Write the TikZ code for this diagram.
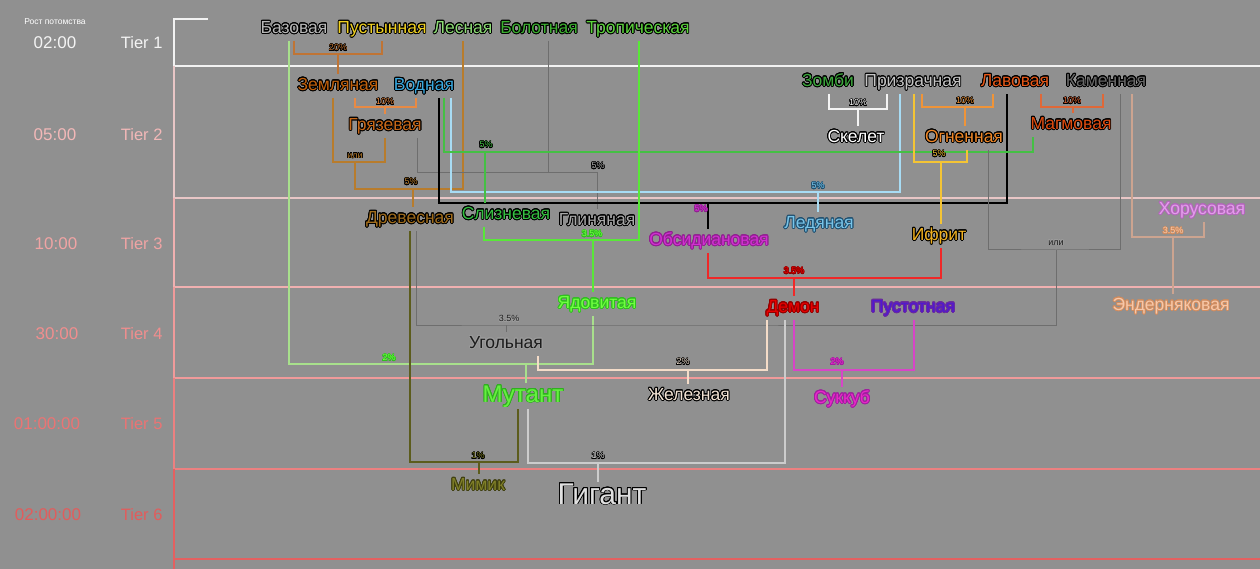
\documentclass[tikz,border=0pt]{standalone}
\usepackage{fontspec}
\setmainfont{Liberation Sans}
\usepackage{contour}
\contournumber{24}
\usetikzlibrary{calc}
\pgfdeclarelayer{back}
\pgfdeclarelayer{wires}
\pgfsetlayers{back,wires,main}

\definecolor{bgc}{HTML}{909090}
% tier colours
\definecolor{tlA}{HTML}{F2F2F2}
\definecolor{tlB}{HTML}{E8C6C6}
\definecolor{tlC}{HTML}{F0B0B0}
\definecolor{tlD}{HTML}{F09A9A}
\definecolor{tlE}{HTML}{EC8080}
\definecolor{tlF}{HTML}{E46060}
\definecolor{txA}{HTML}{F4F4F4}
\definecolor{txB}{HTML}{F2B8B8}
\definecolor{txC}{HTML}{F0A4A4}
\definecolor{txD}{HTML}{F08E8E}
\definecolor{txE}{HTML}{EA7474}
\definecolor{txF}{HTML}{E25C5C}
% wire colours
\definecolor{wBr}{HTML}{C07434}
\definecolor{wOr}{HTML}{E88A44}
\definecolor{wGold}{HTML}{B87C2C}
\definecolor{wLG}{HTML}{A8E08C}
\definecolor{wGray}{HTML}{6E6E6E}
\definecolor{wLB}{HTML}{A8DCF4}
\definecolor{wGr}{HTML}{44C044}
\definecolor{wBG}{HTML}{58E838}
\definecolor{wWh}{HTML}{F4F4F4}
\definecolor{wOg}{HTML}{F09438}
\definecolor{wYe}{HTML}{F4C434}
\definecolor{wMag}{HTML}{E06838}
\definecolor{wRed}{HTML}{F02828}
\definecolor{wTan}{HTML}{CCA490}
\definecolor{wOl}{HTML}{5C5C1C}
\definecolor{wLGr}{HTML}{CCCCCC}
\definecolor{wPe}{HTML}{F4DCC8}
\definecolor{wPk}{HTML}{D844C8}
% label fills
\definecolor{fBaz}{HTML}{B8B8B8}
\definecolor{fPust}{HTML}{F0D020}
\definecolor{fLes}{HTML}{8CDC74}
\definecolor{fBol}{HTML}{3CB030}
\definecolor{fTrop}{HTML}{5CD43C}
\definecolor{fZeml}{HTML}{C0600C}
\definecolor{fVod}{HTML}{38A8E0}
\definecolor{fGryaz}{HTML}{C86818}
\definecolor{fZomb}{HTML}{3CA83C}
\definecolor{fPriz}{HTML}{C4C4C4}
\definecolor{fLav}{HTML}{E85818}
\definecolor{fKam}{HTML}{6A6A6A}
\definecolor{fOgn}{HTML}{F08828}
\definecolor{fMag}{HTML}{E04C10}
\definecolor{fDre}{HTML}{A06C1C}
\definecolor{fSliz}{HTML}{34C040}
\definecolor{fGli}{HTML}{A8A8A8}
\definecolor{fObs}{HTML}{D030D0}
\definecolor{oObs}{HTML}{902090}
\definecolor{fLed}{HTML}{78C4E8}
\definecolor{oLed}{HTML}{205070}
\definecolor{fIfr}{HTML}{F0B020}
\definecolor{fHor}{HTML}{E49CEC}
\definecolor{oHor}{HTML}{B468BC}
\definecolor{fYad}{HTML}{70FF40}
\definecolor{oYad}{HTML}{30C020}
\definecolor{fUgol}{HTML}{1C1C1C}
\definecolor{oUgol}{HTML}{9C9C9C}
\definecolor{fDem}{HTML}{E80000}
\definecolor{oDem}{HTML}{900000}
\definecolor{fPus}{HTML}{5018D0}
\definecolor{oPus}{HTML}{6A2AA0}
\definecolor{fEnd}{HTML}{F8C8A8}
\definecolor{oEnd}{HTML}{D08C60}
\definecolor{fMut}{HTML}{66F040}
\definecolor{oMut}{HTML}{30B020}
\definecolor{fZhel}{HTML}{F4E4D4}
\definecolor{fSuk}{HTML}{E828C8}
\definecolor{oSuk}{HTML}{A020A0}
\definecolor{fMim}{HTML}{808028}
\definecolor{oMim}{HTML}{404010}
\definecolor{fGig}{HTML}{E0E0E0}

\newcommand\nm[3]{\textcolor{#2}{\contourlength{0.8pt}\contour{#1}{#3}}}
\newcommand\pc[3]{\textcolor{#2}{\contourlength{0.4pt}\contour{#1}{#3}}}

\tikzset{
  lbl/.style={inner xsep=2pt, inner ysep=4pt, text height=12pt, text depth=3.5pt,
    font=\fontsize{17.5}{20}\selectfont},
  biglbl/.style={inner xsep=2pt, inner ysep=2pt, text height=17pt, text depth=5pt,
    font=\fontsize{24}{27}\selectfont},
  hugelbl/.style={inner xsep=2pt, inner ysep=0pt, text height=22pt, text depth=6pt,
    font=\fontsize{30}{33}\selectfont},
  pct/.style={inner sep=0.5pt, font=\fontsize{9}{10}\selectfont},
  w/.style={line width=1.5pt},
  wt/.style={line width=1pt},
  tline/.style={line width=1.6pt},
  timel/.style={font=\fontsize{17}{20}\selectfont},
  tierl/.style={font=\fontsize{16.5}{19}\selectfont, anchor=east},
}

\begin{document}
\begin{tikzpicture}[x=1pt,y=-1pt]
\useasboundingbox (0,0) rectangle (1260,569);
\begin{pgfonlayer}{back}
\fill[bgc] (0,0) rectangle (1260,569);
% tier grid
\draw[tline,tlA] (208,19) -- (174,19) -- (174,66);
\draw[tline,tlA] (174,66) -- (1260,66);
\draw[tline,tlB] (174,66) -- (174,198);
\draw[tline,tlB] (174,198) -- (1260,198);
\draw[tline,tlC] (174,198) -- (174,287);
\draw[tline,tlC] (174,287) -- (1260,287);
\draw[tline,tlD] (174,287) -- (174,378);
\draw[tline,tlD] (174,378) -- (1260,378);
\draw[tline,tlE] (174,378) -- (174,469);
\draw[tline,tlE] (174,469) -- (1260,469);
\draw[tline,tlF] (174,469) -- (174,569);
\draw[tline,tlF] (174,559) -- (1260,559);
\end{pgfonlayer}

% left column
\node[font=\fontsize{8.5}{10}\selectfont, text=white] (rost) at (55,22) {Рост потомства};
\node[timel, text=txA] (tA) at (55,43) {02:00};
\node[timel, text=txB] (tB) at (55,135) {05:00};
\node[timel, text=txC] (tC) at (56,244) {10:00};
\node[timel, text=txD] (tD) at (57,334) {30:00};
\node[timel, text=txE] (tE) at (47,424) {01:00:00};
\node[timel, text=txF] (tF) at (48,515) {02:00:00};
\node[tierl, text=txA] (rA) at (166,43) {Tier 1};
\node[tierl, text=txB] (rB) at (166,135) {Tier 2};
\node[tierl, text=txC] (rC) at (166,244) {Tier 3};
\node[tierl, text=txD] (rD) at (166,334) {Tier 4};
\node[tierl, text=txE] (rE) at (166,424) {Tier 5};
\node[tierl, text=txF] (rF) at (166,515) {Tier 6};

% Tier 1
\node[lbl] (baz) at (294,29) {\nm{black}{fBaz}{Базовая}};
\node[lbl] (pust) at (382,29) {\nm{black}{fPust}{Пустынная}};
\node[lbl] (les) at (463,29) {\nm{black}{fLes}{Лесная}};
\node[lbl] (bol) at (539,29) {\nm{black}{fBol}{Болотная}};
\node[lbl] (trop) at (638,29) {\nm{black}{fTrop}{Тропическая}};
% Tier 2
\node[lbl] (zeml) at (338,86) {\nm{black}{fZeml}{Земляная}};
\node[lbl] (vod) at (424,86) {\nm{black}{fVod}{Водная}};
\node[lbl] (gryaz) at (385,126) {\nm{black}{fGryaz}{Грязевая}};
\node[lbl] (zomb) at (828,82) {\nm{black}{fZomb}{Зомби}};
\node[lbl] (priz) at (913,82) {\nm{black}{fPriz}{Призрачная}};
\node[lbl] (lav) at (1015,82) {\nm{black}{fLav}{Лавовая}};
\node[lbl] (kam) at (1106,82) {\nm{black}{fKam}{Каменная}};
\node[lbl] (skel) at (856,138) {\nm{black}{white}{Скелет}};
\node[lbl] (ogn) at (964,138) {\nm{black}{fOgn}{Огненная}};
\node[lbl] (mag) at (1071,125) {\nm{black}{fMag}{Магмовая}};
% Tier 3
\node[lbl] (dre) at (410,219) {\nm{black}{fDre}{Древесная}};
\node[lbl] (sliz) at (506,215) {\nm{black}{fSliz}{Слизневая}};
\node[lbl] (gli) at (597,221) {\nm{black}{fGli}{Глиняная}};
\node[lbl] (obs) at (709,241) {\nm{oObs}{fObs}{Обсидиановая}};
\node[lbl] (led) at (819,224) {\nm{oLed}{fLed}{Ледяная}};
\node[lbl] (ifr) at (939,236) {\nm{black}{fIfr}{Ифрит}};
\node[lbl] (hor) at (1202,210) {\nm{oHor}{fHor}{Хорусовая}};
% Tier 4
\node[lbl] (yad) at (597,304) {\nm{oYad}{fYad}{Ядовитая}};
\node[lbl] (ugol) at (506,344) {\nm{oUgol}{fUgol}{Угольная}};
\node[lbl] (demon) at (793,308) {\nm{oDem}{fDem}{Демон}};
\node[lbl] (pust2) at (913,308) {\nm{oPus}{fPus}{Пустотная}};
\node[lbl] (ender) at (1171,306) {\nm{oEnd}{fEnd}{Эндерняковая}};
% Tier 5
\node[biglbl] (mut) at (523,396) {\nm{oMut}{fMut}{Мутант}};
\node[lbl] (zhel) at (689,396) {\nm{black}{fZhel}{Железная}};
\node[lbl] (sukk) at (842,399) {\nm{oSuk}{fSuk}{Суккуб}};
% Tier 6
\node[lbl] (mim) at (478,486) {\nm{oMim}{fMim}{Мимик}};
\node[hugelbl] (gig) at (602,496) {\nm{black}{fGig}{Гигант}};

% junction points
\coordinate (j1) at (338,54);
\coordinate (j2) at (385,107);
\coordinate (j3a) at (355,162);
\coordinate (j3) at (413,189);
\coordinate (j4) at (526,364);
\coordinate (j5) at (597,173);
\coordinate (j6) at (708,203);
\coordinate (j7) at (818,192);
\coordinate (j8) at (485,152);
\coordinate (j9) at (593,240);
\coordinate (j10) at (858,109);
\coordinate (j11) at (965,107);
\coordinate (j12) at (941,162);
\coordinate (j13) at (1073,107);
\coordinate (j14a) at (1056,250);
\coordinate (j14) at (506,325);
\coordinate (j15) at (1173,237);
\coordinate (j16) at (794,278);
\coordinate (j17) at (688,370);
\coordinate (j18) at (842,370);
\coordinate (j19) at (479,462);
\coordinate (j20) at (598,463);

\begin{pgfonlayer}{wires}
\draw[w,wBr] (baz.south) |- (j1) -| (pust.south);
\draw[w,wBr] (j1) -- (zeml.north);
\draw[w,wOr] (zeml.south -| 355,0) |- (j2) -| (vod.south -| 416,0);
\draw[w,wOr] (j2) -- (gryaz.north);
\draw[w,wGold] (zeml.south -| 333,0) |- (j3a) -| (gryaz.south);
\draw[w,wGold] (j3a) |- (j3) -| (les.south);
\draw[w,wGold] (j3) -- (dre.north -| j3);
\draw[w,wLG] (baz.south -| 289,0) |- (j4) -| (yad.south -| 593,0);
\draw[w,wLG] (j4) -- (mut.north -| j4);
\draw[wt,wGray] (gryaz.south -| 417,0) |- (j5) -- (gli.north);
\draw[wt,wGray] (bol.south -| 548,0) -- (j5 -| 548,0);
\draw[w,black] (vod.south -| 439,0) |- (j6) -| (lav.south -| 1007,0);
\draw[w,black] (j6) -- (obs.north -| j6);
\draw[w,wLB] (vod.south -| 451,0) |- (j7) -| (priz.south -| 900,0);
\draw[w,wLB] (j7) -- (led.north -| j7);
\draw[w,wGr] (vod.south -| 444,0) |- (j8) -| (mag.south -| 1033,0);
\draw[w,wGr] (j8) -- (sliz.north -| j8);
\draw[w,wBG] (sliz.south -| 484,0) |- (j9) -| (trop.south -| 639,0);
\draw[w,wBG] (j9) -- (yad.north -| j9);
\draw[w,wWh] (zomb.south -| 829,0) |- (j10) -| (priz.south -| 887,0);
\draw[w,wWh] (j10) -- (skel.north -| j10);
\draw[w,wOg] (priz.south -| 922,0) |- (j11) -| (lav.south -| 993,0);
\draw[w,wOg] (j11) -- (ogn.north -| j11);
\draw[w,wYe] (priz.south -| 914,0) |- (j12) -| (ogn.south -| 967,0);
\draw[w,wYe] (j12) -- (ifr.north -| j12);
\draw[w,wMag] (lav.south -| 1041,0) |- (j13) -| (kam.south -| 1103,0);
\draw[w,wMag] (j13) -- (mag.north -| j13);
\draw[wt,wGray] (ogn.south -| 988,0) |- (j14a) -| (kam.south -| 1120,0);
\draw[wt,wGray] (j14a) |- (j14) -| (dre.south -| 416,0);
\draw[wt,wGray] (j14) -- (ugol.north);
\draw[w,wTan] (kam.south -| 1132,0) |- (j15) -| (hor.south -| 1204,0);
\draw[w,wTan] (j15) -- (ender.north -| j15);
\draw[w,wRed] (obs.south -| 708,0) |- (j16) -| (ifr.south -| 941,0);
\draw[w,wRed] (j16) -- (demon.north -| j16);
\draw[w,wPe] (ugol.south -| 538,0) |- (j17) -| (demon.south -| 767,0);
\draw[w,wPe] (j17) -- (zhel.north -| j17);
\draw[w,wPk] (demon.south -| 794,0) |- (j18) -| (pust2.south -| 914,0);
\draw[w,wPk] (j18) -- (sukk.north);
\draw[w,wOl] (dre.south) |- (j19) -| (mut.south -| 518,0);
\draw[w,wOl] (j19) -- (mim.north -| j19);
\draw[w,wLGr] (mut.south -| 528,0) |- (j20) -| (demon.south -| 785,0);
\draw[w,wLGr] (j20) -- (gig.north -| j20);
\end{pgfonlayer}

% percentage labels
\node[pct] (p1) at (338,48) {\pc{black}{wBr}{20\%}};
\node[pct] (p2) at (385,102) {\pc{black}{wOr}{10\%}};
\node[pct] (p3) at (355,156) {\pc{black}{wGold}{или}};
\node[pct] (p4) at (411,182) {\pc{black}{wGold}{5\%}};
\node[pct] (p5) at (486,145) {\pc{black}{wGr}{5\%}};
\node[pct] (p6) at (598,166) {\pc{black}{fGli}{5\%}};
\node[pct] (p7) at (701,209) {\pc{oObs}{fObs}{5\%}};
\node[pct] (p8) at (818,186) {\pc{oLed}{fLed}{5\%}};
\node[pct] (p9) at (592,234) {\pc{oYad}{fYad}{3.5\%}};
\node[pct] (p10) at (858,103) {\pc{black}{white}{10\%}};
\node[pct] (p11) at (965,101) {\pc{black}{wOg}{10\%}};
\node[pct] (p12) at (939,154) {\pc{black}{wYe}{5\%}};
\node[pct] (p13) at (1072,101) {\pc{black}{wMag}{10\%}};
\node[pct] (p14) at (1056,243) {\pc{oUgol}{fUgol}{или}};
\node[pct] (p15) at (1173,231) {\pc{oEnd}{fEnd}{3.5\%}};
\node[pct] (p16) at (509,319) {\pc{oUgol}{fUgol}{3.5\%}};
\node[pct] (p17) at (389,358) {\pc{oYad}{fYad}{2\%}};
\node[pct] (p18) at (794,271) {\pc{oDem}{fDem}{3.5\%}};
\node[pct] (p19) at (683,362) {\pc{black}{fZhel}{2\%}};
\node[pct] (p20) at (837,362) {\pc{oSuk}{fSuk}{2\%}};
\node[pct] (p21) at (478,456) {\pc{black}{fMim}{1\%}};
\node[pct] (p22) at (598,456) {\pc{black}{fGig}{1\%}};
\end{tikzpicture}
\end{document}
